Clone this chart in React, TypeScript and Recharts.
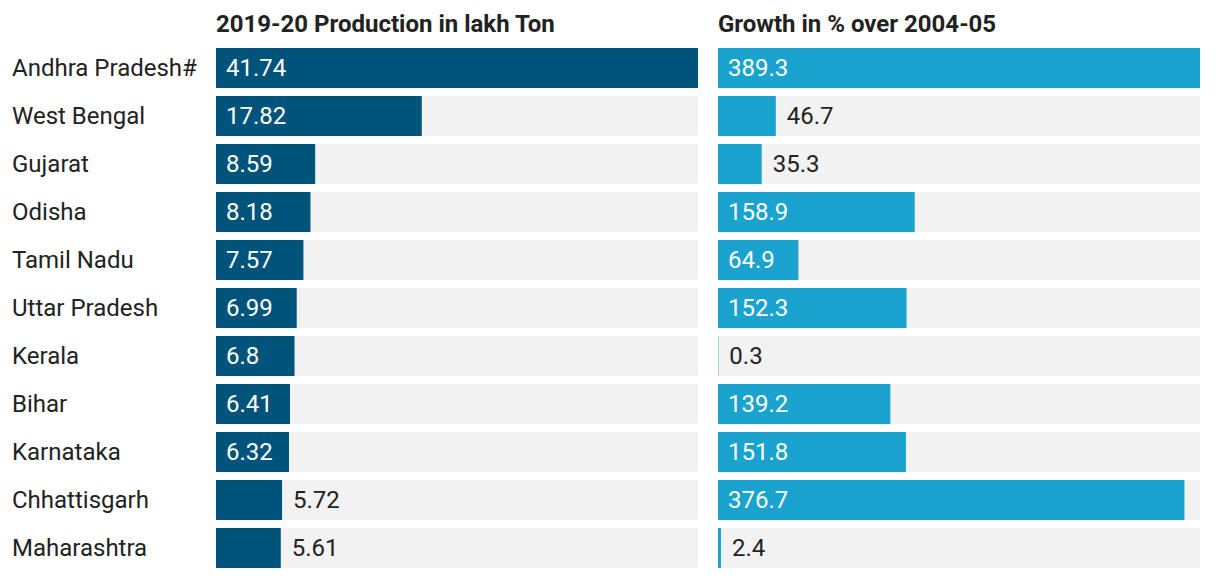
import { BarChart, Bar, XAxis, YAxis, LabelList } from "recharts";

const states = [
  "Andhra Pradesh#",
  "West Bengal",
  "Gujarat",
  "Odisha",
  "Tamil Nadu",
  "Uttar Pradesh",
  "Kerala",
  "Bihar",
  "Karnataka",
  "Chhattisgarh",
  "Maharashtra",
];
const production = [41.74, 17.82, 8.59, 8.18, 7.57, 6.99, 6.8, 6.41, 6.32, 5.72, 5.61];
const growth = [389.3, 46.7, 35.3, 158.9, 64.9, 152.3, 0.3, 139.2, 151.8, 376.7, 2.4];

const rows = states.map((state, i) => ({ state, production: production[i], growth: growth[i] }));

const FONT = "Roboto, 'Noto Sans', sans-serif";
const TEXT = "#222";
const SIZE = 24;

function StateTick(props: any) {
  const { y, payload } = props;
  return (
    <text x={12} y={y} dominantBaseline="central" fontSize={SIZE} fill={TEXT} fontFamily={FONT}>
      {payload.value}
    </text>
  );
}

function ValueLabel(props: any) {
  const { x, y, width, height, value } = props;
  const s = String(value);
  const inside = width >= s.length * 11 + 25;
  return (
    <text
      x={inside ? x + 10 : x + width + 11}
      y={y + height / 2}
      dominantBaseline="central"
      fontSize={SIZE}
      fill={inside ? "#fff" : TEXT}
      fontFamily={FONT}
    >
      {s}
    </text>
  );
}

const header: React.CSSProperties = {
  position: "absolute",
  top: 10,
  fontFamily: FONT,
  fontWeight: 700,
  fontSize: 24,
  lineHeight: "28px",
  color: TEXT,
  whiteSpace: "nowrap",
};

export default function App() {
  return (
    <div style={{ position: "absolute", left: 0, top: 0, width: 1220, height: 578, background: "#fff" }}>
      <div style={{ ...header, left: 216 }}>2019-20 Production in lakh Ton</div>
      <div style={{ ...header, left: 718 }}>Growth in % over 2004-05</div>
      <div style={{ position: "absolute", left: 0, top: 0 }}>
        <BarChart
          width={698}
          height={578}
          data={rows}
          layout="vertical"
          margin={{ top: 44, right: 0, bottom: 6, left: 0 }}
          barSize={40}
        >
          <XAxis type="number" hide domain={[0, 41.74]} />
          <YAxis
            type="category"
            dataKey="state"
            width={216}
            axisLine={false}
            tickLine={false}
            tick={<StateTick />}
          />
          <Bar dataKey="production" fill="#00537b" background={{ fill: "#f2f2f2" }} isAnimationActive={false}>
            <LabelList dataKey="production" content={<ValueLabel />} />
          </Bar>
        </BarChart>
      </div>
      <div style={{ position: "absolute", left: 698, top: 0 }}>
        <BarChart
          width={522}
          height={578}
          data={rows}
          layout="vertical"
          margin={{ top: 44, right: 20, bottom: 6, left: 20 }}
          barSize={40}
        >
          <XAxis type="number" hide domain={[0, 389.3]} />
          <YAxis type="category" dataKey="state" hide />
          <Bar dataKey="growth" fill="#1aa3cf" background={{ fill: "#f2f2f2" }} isAnimationActive={false}>
            <LabelList dataKey="growth" content={<ValueLabel />} />
          </Bar>
        </BarChart>
      </div>
    </div>
  );
}
